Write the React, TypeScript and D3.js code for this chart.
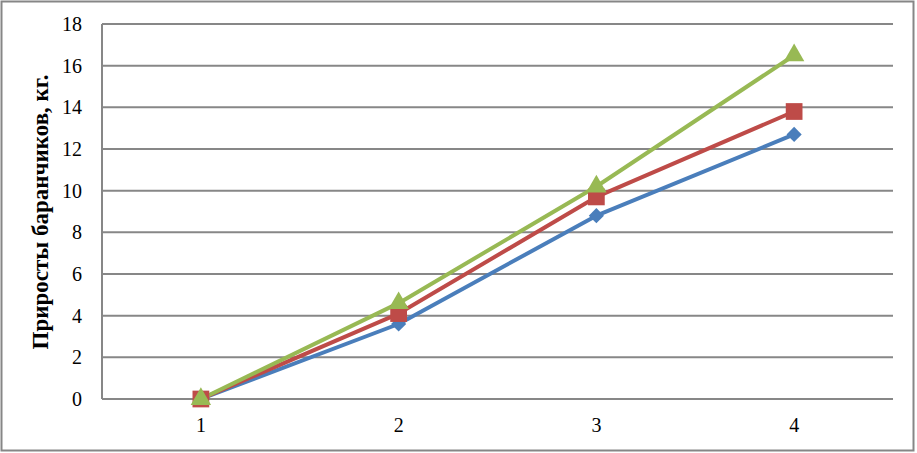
import { useEffect, useRef } from 'react';
import * as d3 from 'd3';

const categories = ['1', '2', '3', '4'];
const seriesBlue = [0, 3.6, 8.8, 12.7];
const seriesRed = [0, 4.1, 9.7, 13.8];
const seriesGreen = [0, 4.6, 10.2, 16.5];
const yTicks = [0, 2, 4, 6, 8, 10, 12, 14, 16, 18];

const series = [
  { name: 'blue', values: seriesBlue, color: '#4a7ebb', symbol: d3.symbolSquare, size: 115, rotate: 45 },
  { name: 'red', values: seriesRed, color: '#be4b48', symbol: d3.symbolSquare, size: 280, rotate: 0 },
  { name: 'green', values: seriesGreen, color: '#98b954', symbol: d3.symbolTriangle, size: 180, rotate: 0 },
];

function App() {
  const svgRef = useRef<SVGSVGElement>(null);

  useEffect(() => {
    const svg = d3.select(svgRef.current);
    svg.selectAll('*').remove();

    const width = 917;
    const height = 453;
    const left = 102;
    const right = 893;
    const top = 24;
    const bottom = 399;
    const font = '"Liberation Serif", "Times New Roman", serif';

    // chart frame
    svg
      .append('rect')
      .attr('x', 1.5)
      .attr('y', 1.5)
      .attr('width', width - 5)
      .attr('height', height - 4)
      .attr('fill', '#fff')
      .attr('stroke', '#868686')
      .attr('stroke-width', 2);

    const x = d3.scaleBand().domain(categories).range([left, right]);
    const y = d3.scaleLinear().domain([0, 18]).range([bottom, top]);

    svg
      .append('g')
      .selectAll('line')
      .data(yTicks)
      .enter()
      .append('line')
      .attr('x1', left)
      .attr('x2', right)
      .attr('y1', (d) => y(d))
      .attr('y2', (d) => y(d))
      .attr('stroke', '#878787')
      .attr('stroke-width', 2);

    svg
      .append('line')
      .attr('x1', left)
      .attr('x2', left)
      .attr('y1', top)
      .attr('y2', bottom)
      .attr('stroke', '#878787')
      .attr('stroke-width', 2);

    svg
      .append('g')
      .selectAll('text')
      .data(yTicks)
      .enter()
      .append('text')
      .attr('x', 82)
      .attr('y', (d) => y(d) + 7)
      .attr('text-anchor', 'end')
      .attr('font-family', font)
      .attr('font-size', 20)
      .text((d) => d);

    svg
      .append('g')
      .selectAll('text')
      .data(categories)
      .enter()
      .append('text')
      .attr('x', (d) => x(d)! + x.bandwidth() / 2)
      .attr('y', 432)
      .attr('text-anchor', 'middle')
      .attr('font-family', font)
      .attr('font-size', 20)
      .text((d) => d);

    svg
      .append('text')
      .attr('transform', `translate(48, 212) rotate(-90)`)
      .attr('text-anchor', 'middle')
      .attr('font-family', font)
      .attr('font-size', 23)
      .attr('font-weight', 'bold')
      .text('Приросты баранчиков, кг.');

    const cx = (i: number) => x(categories[i])! + x.bandwidth() / 2;

    series.forEach((s) => {
      const line = d3
        .line<number>()
        .x((_, i) => cx(i))
        .y((d) => y(d));
      svg
        .append('path')
        .datum(s.values)
        .attr('d', line)
        .attr('fill', 'none')
        .attr('stroke', s.color)
        .attr('stroke-width', 4)
        .attr('stroke-linejoin', 'round');
    });

    series.forEach((s) => {
      svg
        .append('g')
        .selectAll('path')
        .data(s.values)
        .enter()
        .append('path')
        .attr('d', d3.symbol().type(s.symbol).size(s.size)())
        .attr('transform', (d, i) => `translate(${cx(i)}, ${y(d)}) rotate(${s.rotate})`)
        .attr('fill', s.color);
    });
  }, []);

  return (
    <svg
      ref={svgRef}
      width={917}
      height={453}
      style={{ position: 'fixed', left: 0, top: 0, display: 'block' }}
    />
  );
}

export default App;
